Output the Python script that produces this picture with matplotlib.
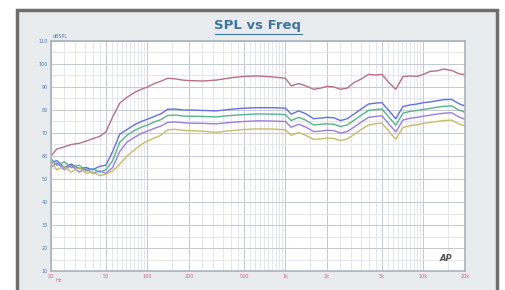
import matplotlib
matplotlib.use("Agg")
import matplotlib.pyplot as plt
import numpy as np
from matplotlib.patches import Rectangle
from matplotlib.lines import Line2D
from matplotlib.ticker import FixedLocator, NullFormatter

# frequency points (Hz) shared by all curves
freq = [20, 22, 25, 28, 32, 36, 40, 45, 50, 56, 63, 71, 80, 90, 100, 112, 125, 140,
        160, 180, 200, 250, 315, 400, 500, 630, 800, 1000, 1100, 1250, 1400, 1600,
        1800, 2000, 2250, 2500, 2800, 3150, 3550, 4000, 4500, 5000, 5600, 6300,
        7100, 8000, 9000, 10000, 11200, 12500, 14000, 16000, 18000, 20000]

spl_red = [60, 63, 64, 65, 65.5, 66.5, 67.5, 68.5, 70.5, 77, 83, 85.5, 87.5, 89, 90,
           91.5, 92.5, 93.8, 93.5, 93, 92.8, 92.6, 93, 94, 94.6, 94.8, 94.4, 93.8,
           90.5, 91.5, 90.5, 89, 89.5, 90.3, 90, 89, 89.5, 92, 93.5, 95.5, 95.2, 95.5,
           92, 89, 94.5, 94.8, 94.6, 95.5, 96.8, 97, 97.8, 97.2, 95.8, 95.3]

spl_blue = [57, 58, 55, 56.5, 54.5, 55, 54, 55.5, 56, 62, 69.5, 71.5, 73.5, 75, 76,
            77.2, 78.3, 80.3, 80.4, 80, 80, 79.8, 79.6, 80.3, 80.8, 81, 81, 80.8,
            78.2, 79.6, 78.4, 76.2, 76.5, 76.8, 76.6, 75.4, 76.2, 78.3, 80.5, 82.6,
            83, 83.2, 79.8, 76.2, 81.5, 82.2, 82.6, 83.2, 83.5, 84, 84.5, 84.6, 82.8, 81.7]

spl_green = [59, 56, 57.5, 55, 56, 53.5, 54.5, 53, 54, 58, 66, 69, 71, 72.5, 73.5,
             74.8, 75.8, 77.6, 77.8, 77.4, 77.3, 77.2, 77, 77.6, 78, 78.3, 78.2, 78,
             75.4, 76.8, 75.6, 73.5, 73.8, 74, 73.8, 72.8, 73.5, 75.6, 77.8, 79.8,
             80.2, 80.4, 77, 73.4, 78.6, 79.4, 79.8, 80.3, 80.7, 81.2, 81.6, 81.8, 80, 79]

spl_purple = [55, 57, 54, 56, 53, 54.5, 52.5, 53.5, 52.5, 55, 62, 66, 68, 69.8, 70.8,
              72, 73, 74.6, 74.8, 74.5, 74.3, 74.2, 74, 74.6, 75, 75.3, 75.2, 75,
              72.5, 73.8, 72.6, 70.6, 70.8, 71.2, 71, 70, 70.6, 72.6, 74.8, 76.8,
              77.2, 77.5, 74, 70.5, 75.6, 76.4, 76.8, 77.3, 77.8, 78.2, 78.6, 78.8, 77, 76]

spl_yellow = [57.5, 54, 55.5, 53, 55, 52.5, 53, 51.5, 52, 53.5, 56.5, 60, 62.5, 65,
              66.5, 67.8, 69, 71.4, 71.6, 71.2, 71, 70.8, 70.3, 71, 71.5, 71.8, 71.7,
              71.4, 69, 70.2, 69, 67.2, 67.4, 67.8, 67.6, 66.7, 67.4, 69.4, 71.6, 73.5,
              74, 74.3, 70.8, 67.3, 72.4, 73.2, 73.6, 74.2, 74.6, 75, 75.4, 75.6, 74, 73]

x_ticks = [20, 50, 100, 200, 500, 1000, 2000, 5000, 10000, 20000]
x_labels = ["20", "50", "100", "200", "500", "1k", "2k", "5k", "10k", "20k"]
y_ticks = [10, 20, 30, 40, 50, 60, 70, 80, 90, 100, 110]

fig = plt.figure(figsize=(5.05, 2.90), dpi=100)
fig.patch.set_facecolor("white")

# outer panel frame, behind the axes
frame = Rectangle((17 / 505, -0.1), 480 / 505, 1 - 10 / 290 + 0.1,
                  transform=fig.transFigure, facecolor="#e9ecef",
                  edgecolor="#6e6e6e", linewidth=2.5, zorder=-5)
fig.add_artist(frame)

ax = fig.add_axes([51 / 505, 1 - 271 / 290, 414 / 505, 230 / 290])
ax.set_zorder(2)
ax.set_facecolor("white")
ax.set_xscale("log")
ax.set_xlim(20, 20000)
ax.set_ylim(10, 110)

# curves
ax.plot(freq, spl_red, color="#b8707e", lw=1.0)
ax.plot(freq, spl_blue, color="#6270dc", lw=1.0)
ax.plot(freq, spl_green, color="#56b48c", lw=1.0)
ax.plot(freq, spl_purple, color="#9c7ce0", lw=1.0)
ax.plot(freq, spl_yellow, color="#c8ba6a", lw=1.0)

# grid
ax.xaxis.set_major_locator(FixedLocator(x_ticks))
ax.xaxis.set_minor_locator(matplotlib.ticker.LogLocator(base=10, subs=np.arange(1.0, 10.0, 0.5), numticks=20))
ax.xaxis.set_minor_formatter(NullFormatter())
ax.set_xticklabels(x_labels)
ax.set_yticks(y_ticks)
ax.set_yticks(np.arange(15, 110, 10), minor=True)
ax.grid(which="major", color="#c4c8d0", lw=0.7)
ax.grid(which="minor", color="#dfe2e8", lw=0.6)
ax.set_axisbelow(True)

ax.tick_params(which="both", length=0, pad=2)
ax.tick_params(axis="x", labelsize=3.5, labelcolor="#d0607c")
ax.tick_params(axis="y", labelsize=3.5, labelcolor="#4a7ab4")
for s in ax.spines.values():
    s.set_color("#aab2bc")
    s.set_linewidth(1.2)

ax.text(22.7, -0.03, "Hz", transform=ax.get_xaxis_transform(), fontsize=3.5,
        color="#d0607c", ha="center", va="top")
ax.text(0.005, 1.01, "dBSPL", transform=ax.transAxes, fontsize=3.5,
        color="#4a7ab4", ha="left", va="bottom")
ax.text(0.97, 0.035, "AP", transform=ax.transAxes, fontsize=6, color="#555555",
        fontweight="bold", style="italic", ha="right", va="bottom")

# underlined title
title = fig.text(258 / 505, 1 - 26 / 290, "SPL vs Freq", fontsize=9.5, fontweight="bold",
                 color="#3c75a0", ha="center", va="center")
fig.canvas.draw()
bb = title.get_window_extent().transformed(fig.transFigure.inverted())
fig.add_artist(Line2D([bb.x0, bb.x1], [bb.y0 - 0.004, bb.y0 - 0.004],
                      transform=fig.transFigure, color="#3c75a0", lw=0.8))

fig.savefig("out.png", dpi=100)
